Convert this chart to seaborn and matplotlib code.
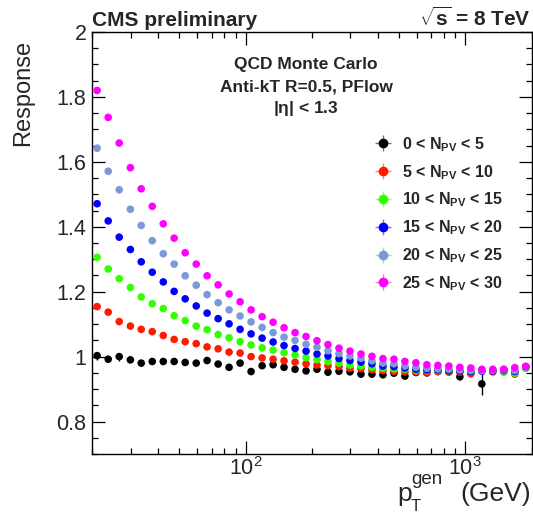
import numpy as np
import pandas as pd
import matplotlib
matplotlib.use("Agg")
import matplotlib.pyplot as plt
import seaborn as sns
from matplotlib.ticker import LogLocator, NullFormatter, MultipleLocator, FixedLocator, FixedFormatter

# ---------------- data ----------------
pt = [21.1, 23.7, 26.6, 29.9, 33.5, 37.6, 42.2, 47.3, 53.1, 59.6,
      66.8, 75.0, 84.1, 94.4, 105.9, 118.9, 133.4, 149.6, 167.9, 188.4,
      211.3, 237.1, 266.1, 298.5, 335.0, 375.8, 421.7, 473.2, 530.9, 595.7,
      668.3, 749.9, 841.4, 944.1, 1059.3, 1188.5, 1333.5, 1496.2, 1678.8, 1883.6]

resp_0_5 = [1.003, 0.992, 1.000, 0.990, 0.980, 0.985, 0.985, 0.985, 0.982, 0.980,
            0.988, 0.977, 0.967, 0.980, 0.954, 0.972, 0.975, 0.967, 0.961, 0.956,
            0.961, 0.952, 0.955, 0.953, 0.946, 0.946, 0.944, 0.949, 0.940, 0.951,
            0.950, 0.954, 0.953, 0.938, 0.950, 0.916, 0.956, 0.960, 0.953, 0.969]
err_0_5 = [0.012, 0.009, 0.012, 0.007, 0.010, 0.006, 0.005, 0.005, 0.005, 0.005,
           0.005, 0.005, 0.005, 0.005, 0.005, 0.005, 0.005, 0.005, 0.005, 0.005,
           0.005, 0.005, 0.005, 0.005, 0.005, 0.005, 0.005, 0.005, 0.005, 0.006,
           0.006, 0.007, 0.008, 0.009, 0.010, 0.034, 0.010, 0.010, 0.010, 0.010]
resp_5_10 = [1.154, 1.137, 1.108, 1.094, 1.084, 1.077, 1.065, 1.053, 1.046, 1.040,
             1.030, 1.024, 1.014, 1.011, 1.000, 0.996, 0.992, 0.987, 0.983, 0.978,
             0.974, 0.972, 0.969, 0.964, 0.963, 0.959, 0.957, 0.954, 0.953, 0.953,
             0.950, 0.954, 0.953, 0.952, 0.947, 0.957, 0.953, 0.954, 0.946, 0.965]
resp_10_15 = [1.306, 1.270, 1.240, 1.213, 1.184, 1.163, 1.148, 1.126, 1.111, 1.094,
              1.083, 1.068, 1.058, 1.046, 1.036, 1.027, 1.020, 1.012, 1.005, 0.997,
              0.991, 0.985, 0.980, 0.974, 0.971, 0.967, 0.964, 0.962, 0.961, 0.957,
              0.957, 0.957, 0.956, 0.957, 0.954, 0.955, 0.957, 0.952, 0.949, 0.964]
resp_15_20 = [1.471, 1.418, 1.368, 1.330, 1.292, 1.260, 1.230, 1.201, 1.178, 1.156,
              1.134, 1.117, 1.101, 1.084, 1.070, 1.057, 1.045, 1.034, 1.025, 1.017,
              1.008, 1.002, 0.994, 0.988, 0.983, 0.978, 0.971, 0.969, 0.965, 0.961,
              0.959, 0.959, 0.957, 0.956, 0.954, 0.955, 0.956, 0.957, 0.954, 0.967]
resp_20_25 = [1.642, 1.571, 1.514, 1.454, 1.404, 1.357, 1.317, 1.285, 1.249, 1.220,
              1.191, 1.166, 1.144, 1.125, 1.107, 1.090, 1.074, 1.060, 1.050, 1.038,
              1.029, 1.018, 1.009, 1.002, 0.995, 0.987, 0.980, 0.978, 0.971, 0.967,
              0.964, 0.962, 0.961, 0.959, 0.957, 0.957, 0.958, 0.959, 0.957, 0.967]
resp_25_30 = [1.820, 1.737, 1.658, 1.582, 1.517, 1.463, 1.409, 1.365, 1.320, 1.285,
              1.249, 1.221, 1.193, 1.169, 1.144, 1.123, 1.106, 1.089, 1.074, 1.062,
              1.049, 1.037, 1.026, 1.017, 1.008, 1.001, 0.994, 0.992, 0.985, 0.981,
              0.975, 0.973, 0.971, 0.967, 0.965, 0.961, 0.961, 0.961, 0.966, 0.970]

series_keys = ["0-5", "5-10", "10-15", "15-20", "20-25", "25-30"]
series_labels = [r"0 < N$_{\mathbf{PV}}$ < 5", r"5 < N$_{\mathbf{PV}}$ < 10",
                 r"10 < N$_{\mathbf{PV}}$ < 15", r"15 < N$_{\mathbf{PV}}$ < 20",
                 r"20 < N$_{\mathbf{PV}}$ < 25", r"25 < N$_{\mathbf{PV}}$ < 30"]
series_colors = ["#000000", "#ff1a00", "#33ff00", "#0000ff", "#7a99d6", "#ff00ff"]
series_values = [resp_0_5, resp_5_10, resp_10_15, resp_15_20, resp_20_25, resp_25_30]

y_ticks = [0.8, 1.0, 1.2, 1.4, 1.6, 1.8, 2.0]
y_tick_labels = ["0.8", "1", "1.2", "1.4", "1.6", "1.8", "2"]

df = pd.DataFrame({
    "pt": np.tile(pt, len(series_keys)),
    "response": np.concatenate(series_values),
    "npv": np.repeat(series_keys, len(pt)),
})

# ---------------- style ----------------
sns.set_style("ticks")
plt.rcParams["font.family"] = ["Liberation Sans", "DejaVu Sans"]
plt.rcParams["mathtext.fontset"] = "custom"
plt.rcParams["mathtext.rm"] = "Liberation Sans"
plt.rcParams["mathtext.it"] = "Liberation Sans:italic"
plt.rcParams["mathtext.bf"] = "Liberation Sans:bold"

fig = plt.figure(figsize=(5.33, 5.17), dpi=100)
ax = fig.add_axes([92 / 533, 1 - 454 / 517, (531.5 - 92) / 533, (454 - 32) / 517])

# error bars for lowest-pileup series (others hidden by markers)
ax.errorbar(pt, resp_0_5, yerr=err_0_5, fmt="none", ecolor="#000000",
            elinewidth=1.0, capsize=0, zorder=1)

sns.scatterplot(data=df, x="pt", y="response", hue="npv",
                hue_order=series_keys, palette=dict(zip(series_keys, series_colors)),
                s=30, linewidth=0, edgecolor="none", legend=False, ax=ax, zorder=3)

ax.set_xscale("log")
ax.set_xlim(20, 2000)
ax.set_ylim(0.7, 2.0)

ax.xaxis.set_major_locator(LogLocator(base=10, numticks=10))
ax.xaxis.set_minor_locator(LogLocator(base=10, subs=np.arange(2, 10), numticks=20))
ax.xaxis.set_minor_formatter(NullFormatter())
ax.yaxis.set_major_locator(FixedLocator(y_ticks))
ax.yaxis.set_major_formatter(FixedFormatter(y_tick_labels))
ax.yaxis.set_minor_locator(MultipleLocator(0.05))

ax.tick_params(axis="both", which="both", direction="in", top=True, right=True,
               color="#000000", width=0.9)
ax.tick_params(axis="both", which="major", length=9.5, labelsize=15.5, pad=4)
ax.tick_params(axis="x", which="major", pad=2)
ax.tick_params(axis="both", which="minor", length=4)
for sp in ax.spines.values():
    sp.set_color("#000000")
    sp.set_linewidth(1.0)
ax.set_xlabel("")
ax.set_ylabel("")

# axis titles (ROOT style, aligned to the ends)
fig.text(23 / 533, 1 - 40 / 517, "Response", rotation=90, ha="center", va="top",
         fontsize=17)
# x title composed of pieces: p, superscript gen, subscript T, (GeV)
fig.text(531 / 533, 1 - 501 / 517, "(GeV)", ha="right", va="baseline", fontsize=19)
fig.text(397 / 533, 1 - 501 / 517, "p", ha="left", va="baseline", fontsize=19)
fig.text(411 / 533, 1 - 484 / 517, "gen", ha="left", va="baseline", fontsize=13.5)
fig.text(411 / 533, 1 - 511 / 517, "T", ha="left", va="baseline", fontsize=12)

# header
fig.text(92 / 533, 1 - 26 / 517, "CMS preliminary", ha="left", va="baseline",
         fontsize=15, fontweight="bold")
fig.text(531 / 533, 1 - 26 / 517, r"$\sqrt{\mathbf{s}}$ = 8 TeV", ha="right",
         va="baseline", fontsize=15, fontweight="bold")

# inner text
for txt, yb in [("QCD Monte Carlo", 69), ("Anti-kT R=0.5, PFlow", 91),
                (r"|$\mathbf{\eta}$| < 1.3", 113)]:
    fig.text(306 / 533, 1 - yb / 517, txt, ha="center", va="baseline",
             fontsize=12.5, fontweight="bold")

# legend with errorbar-style proxies
handles = []
for lab, col in zip(series_labels, series_colors):
    h = ax.errorbar([np.nan], [np.nan], xerr=[1], yerr=[1], fmt="o", color=col,
                    ms=6, ecolor=col, elinewidth=1.0, capsize=0, label=lab)
    for ln in h.lines[2]:
        ln.set_alpha(0.55)
    handles.append(h)
leg = ax.legend(handles=handles, labels=series_labels, loc="upper left",
                bbox_to_anchor=(370 / 533, 1 - 135 / 517), bbox_transform=fig.transFigure,
                frameon=False, fontsize=11.5, handlelength=1.6, handletextpad=0.4,
                labelspacing=0.57, borderpad=0, borderaxespad=0)
for t in leg.get_texts():
    t.set_fontweight("bold")

fig.savefig("out.png", dpi=100)
